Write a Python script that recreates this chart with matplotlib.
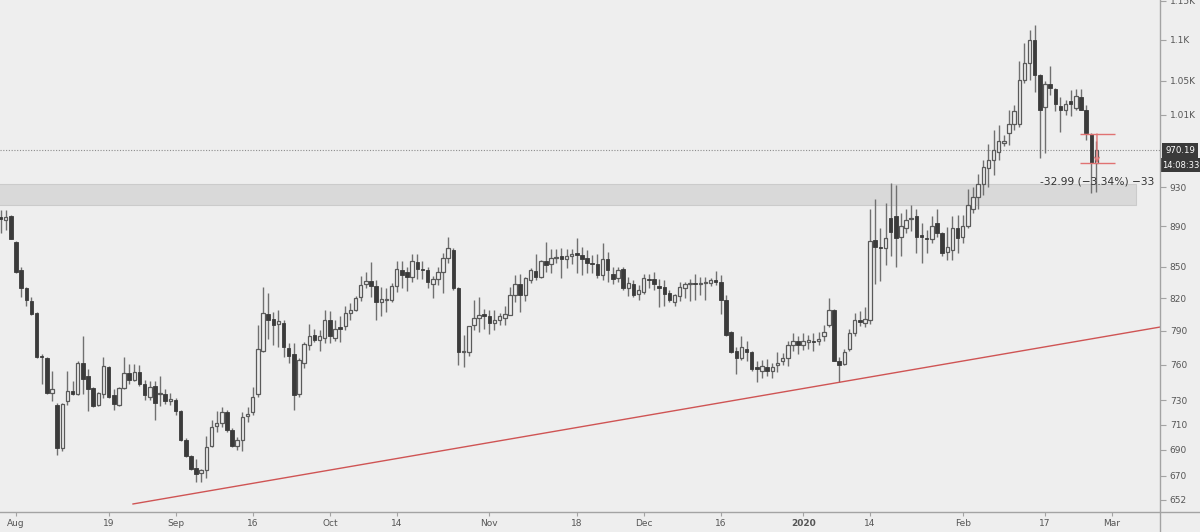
import pandas as pd
import matplotlib
matplotlib.use("Agg")
import matplotlib.pyplot as plt
import matplotlib.dates as mdates
import matplotlib.transforms as mtransforms
from matplotlib.lines import Line2D
from matplotlib.patches import Rectangle
from matplotlib.ticker import FixedLocator, NullLocator, NullFormatter

# daily candles starting 2019-07-29
start_day = "2019-07-29"
opens = [899, 896, 900, 874, 847, 829, 817, 806, 768, 766, 736, 726, 691, 729, 738, 735, 762, 750, 740, 726,
         735, 758, 734, 726, 740, 753, 747, 754, 744, 733, 742, 735, 735, 729, 730, 721, 698, 685, 676, 672,
         674, 693, 709, 711, 720, 706, 693, 698, 717, 720, 735, 772, 805, 801, 796, 797, 775, 769, 735, 762,
         777, 786, 782, 784, 800, 784, 793, 794, 806, 809, 821, 833, 836, 831, 816, 818, 818, 831, 847, 845,
         840, 854, 848, 847, 833, 838, 845, 858, 866, 829, 771, 771, 795, 802, 805, 803, 797, 800, 802, 804,
         823, 833, 823, 837, 846, 840, 855, 852, 858, 860, 857, 860, 863, 861, 858, 853, 852, 842, 857, 843,
         839, 848, 829, 833, 824, 826, 838, 838, 831, 830, 825, 816, 822, 829, 833, 834, 833, 834, 834, 837,
         835, 818, 789, 772, 766, 774, 771, 758, 755, 758, 755, 760, 763, 766, 777, 781, 777, 780, 781, 781,
         785, 795, 809, 763, 761, 774, 788, 800, 797, 800, 876, 869, 868, 898, 900, 879, 888, 897, 900, 881,
         878, 877, 893, 883, 864, 866, 888, 879, 890, 907, 920, 934, 951, 959, 968, 978, 989, 1000, 1000, 1051,
         1071, 1100, 1057, 1019, 1046, 1040, 1020, 1016, 1026, 1018, 1031, 1016, 988.4, 956]
highs = [906, 906, 901, 875, 850, 830, 821, 807, 769, 767, 755, 728, 728, 755, 746, 763, 785, 756, 741, 737,
         767, 759, 739, 741, 767, 761, 761, 760, 747, 746, 746, 750, 739, 736, 732, 722, 699, 686, 683, 675,
         701, 714, 721, 724, 722, 707, 700, 720, 724, 741, 795, 830, 825, 807, 809, 800, 779, 779, 766, 780,
         796, 792, 791, 809, 808, 800, 803, 813, 815, 822, 841, 845, 854, 837, 830, 829, 834, 855, 855, 850,
         862, 862, 855, 850, 841, 850, 863, 879, 868, 830, 786, 794, 818, 821, 810, 809, 809, 806, 813, 830,
         842, 843, 840, 849, 862, 856, 874, 867, 867, 868, 867, 867, 878, 869, 866, 861, 862, 873, 864, 850,
         850, 850, 840, 837, 832, 843, 843, 845, 838, 837, 828, 824, 835, 835, 838, 843, 840, 840, 839, 846,
         842, 823, 790, 776, 785, 781, 772, 763, 764, 765, 762, 771, 770, 781, 788, 785, 788, 786, 788, 789,
         795, 820, 810, 767, 774, 792, 806, 808, 812, 907, 918, 888, 914, 935, 933, 903, 908, 912, 908, 893,
         886, 900, 907, 884, 889, 900, 901, 901, 928, 930, 944, 959, 977, 993, 998, 987, 1016, 1021, 1074, 1096,
         1113, 1119, 1058, 1050, 1068, 1042, 1031, 1027, 1039, 1040, 1040, 1022, 990, 981]
lows = [883, 886, 877, 844, 821, 813, 804, 766, 744, 735, 729, 686, 689, 726, 734, 734, 735, 721, 724, 725,
        732, 732, 722, 725, 739, 744, 746, 742, 730, 730, 714, 725, 727, 726, 718, 697, 684, 674, 665, 665,
        668, 692, 704, 708, 704, 692, 690, 689, 712, 718, 733, 771, 783, 777, 776, 767, 762, 722, 733, 757,
        773, 780, 772, 779, 779, 781, 780, 791, 800, 808, 817, 829, 821, 800, 803, 807, 816, 826, 829, 827,
        835, 838, 838, 829, 820, 832, 825, 853, 828, 760, 758, 768, 791, 789, 792, 787, 791, 795, 795, 804,
        816, 807, 817, 834, 837, 839, 845, 844, 853, 839, 849, 852, 844, 842, 844, 844, 839, 837, 835, 833,
        835, 828, 822, 821, 818, 824, 829, 828, 812, 813, 816, 813, 817, 820, 817, 818, 823, 818, 831, 832,
        805, 785, 770, 752, 764, 763, 755, 745, 749, 750, 749, 754, 760, 759, 772, 769, 773, 774, 772, 777,
        781, 793, 763, 745, 760, 772, 785, 794, 793, 796, 833, 836, 851, 860, 850, 860, 883, 885, 863, 853,
        863, 873, 879, 860, 856, 856, 863, 873, 888, 903, 908, 922, 930, 943, 959, 975, 976, 993, 996, 1047,
        1051, 1037, 962, 967, 1033, 1015, 991, 1010, 1009, 1016, 1016, 982, 924, 925]
closes = [897, 899, 877, 845, 829, 818, 805, 767, 767, 736, 739, 691, 727, 738, 735, 762, 748, 739, 725, 736,
          759, 733, 727, 740, 753, 747, 754, 744, 734, 741, 728, 736, 729, 731, 721, 698, 685, 675, 671, 674,
          692, 708, 711, 720, 706, 693, 698, 716, 719, 733, 774, 806, 800, 795, 799, 776, 768, 734, 764, 778,
          785, 782, 785, 800, 785, 792, 792, 806, 809, 820, 832, 836, 831, 816, 819, 819, 831, 848, 842, 840,
          855, 848, 847, 835, 838, 845, 858, 868, 829, 771, 772, 794, 802, 804, 803, 797, 800, 803, 805, 823,
          833, 823, 839, 847, 840, 855, 851, 858, 859, 857, 860, 862, 861, 857, 853, 852, 842, 857, 847, 838,
          847, 829, 834, 823, 828, 839, 837, 833, 829, 824, 818, 823, 830, 833, 834, 833, 834, 835, 837, 835,
          818, 786, 771, 766, 776, 771, 756, 756, 759, 755, 758, 762, 766, 777, 781, 777, 781, 782, 780, 783,
          789, 809, 763, 760, 771, 788, 800, 798, 801, 875, 869, 868, 878, 884, 878, 890, 896, 898, 879, 879,
          877, 890, 883, 863, 869, 888, 878, 890, 912, 920, 934, 952, 959, 970, 980, 980, 1000, 1014, 1051, 1071,
          1100, 1057, 1016, 1046, 1042, 1023, 1016, 1023, 1023, 1032, 1016, 990, 956, 970.19]

last_price = 970.19
last_time = "14:08:33"

price_ticks = [652, 670, 690, 710, 730, 760, 790, 820, 850, 890, 930, 1010, 1050, 1100, 1150]
price_labels = ["652", "670", "690", "710", "730", "760", "790", "820", "850", "890", "930",
                "1.01K", "1.05K", "1.1K", "1.15K"]
date_ticks = ["2019-08-01", "2019-08-19", "2019-09-01", "2019-09-16", "2019-10-01", "2019-10-14",
              "2019-11-01", "2019-11-18", "2019-12-01", "2019-12-16", "2020-01-01", "2020-01-14",
              "2020-02-01", "2020-02-17", "2020-03-01"]
date_labels = ["Aug", "19", "Sep", "16", "Oct", "14", "Nov", "18", "Dec", "16", "2020", "14",
               "Feb", "17", "Mar"]

# drawings on the chart
trend_dates = ["2019-08-23 17:45", "2020-03-10 08:24"]
trend_prices = [648.7, 793.4]
zone_end = "2020-03-05 16:48"
zone_low, zone_high = 911.6, 933.6
measure_from, measure_to = 988.4, 956.0
measure_text = "-32.99 (\u22123.34%) \u221233"

BG = "#eeeeee"
DARK = "#3b3b3b"
HOLLOW_EDGE = "#5a5a5a"
WICK = "#707070"
AXIS = "#a3a3a3"
TXT = "#555555"

plt.rcParams["font.family"] = ["DejaVu Sans"]

fig = plt.figure(figsize=(12, 5.32), dpi=100, facecolor=BG)
ax = fig.add_axes([0, 20 / 532, 1160 / 1200, 512 / 532], facecolor=BG)
ax.set_yscale("log")

dates = pd.date_range(start_day, periods=len(opens), freq="D")
x = mdates.date2num(dates)
df = pd.DataFrame({"x": x, "o": opens, "h": highs, "l": lows, "c": closes})
up = df[df.c >= df.o]
down = df[df.c < df.o]

ax.vlines(df.x, df.l, df.h, color=WICK, lw=1, zorder=2)
ax.bar(up.x, (up.c - up.o).clip(lower=0.6), bottom=up.o, width=0.68,
       facecolor=BG, edgecolor=HOLLOW_EDGE, lw=0.9, zorder=3)
ax.bar(down.x, (down.o - down.c).clip(lower=0.6), bottom=down.c, width=0.68,
       facecolor=DARK, edgecolor=DARK, lw=0.6, zorder=3)

x0 = mdates.date2num(pd.Timestamp(start_day))
ax.set_xlim(x0 - 0.111, x0 + 225.35)
ax.set_ylim(642.8, 1151.2)

# support zone
zx1 = mdates.date2num(pd.Timestamp(zone_end))
ax.add_patch(Rectangle((x0 - 2, zone_low), zx1 - x0 + 2, zone_high - zone_low,
                       facecolor="#d9d9d9", edgecolor="#cbcbcb", lw=0.8, zorder=1))

# trend line
ax.plot(pd.to_datetime(trend_dates), trend_prices, color="#cf5454", lw=1, zorder=4)

# last price line
ax.axhline(last_price, color="#8c8c8c", lw=0.8, ls=(0, (1, 1.5)), zorder=1)

# measurement tool
RED = "#e07272"
m_left = mdates.date2num(pd.Timestamp("2020-02-23 19:12"))
m_right = mdates.date2num(pd.Timestamp("2020-03-01 14:24"))
m_mid = mdates.date2num(pd.Timestamp("2020-02-27 02:24"))
ax.hlines([measure_from, measure_to], m_left, m_right, color=RED, lw=1, zorder=5)
ax.annotate("", xy=(m_mid, measure_to), xytext=(m_mid, measure_from),
            arrowprops=dict(arrowstyle="->", color=RED, lw=1, mutation_scale=8,
                            shrinkA=0, shrinkB=0), zorder=5)
ax.text(m_mid, 935.9, measure_text, ha="center", va="center", fontsize=7.7, color="#333333", zorder=6)

# axes styling
for s in ax.spines.values():
    s.set_visible(False)
ax.yaxis.tick_right()
ax.yaxis.set_major_locator(FixedLocator(price_ticks))
ax.yaxis.set_major_formatter(plt.FixedFormatter(price_labels))
ax.yaxis.set_minor_locator(NullLocator())
ax.yaxis.set_minor_formatter(NullFormatter())
ax.tick_params(axis="y", length=4, width=0.8, color=AXIS, labelsize=6.5, labelcolor=TXT, pad=3)

ax.set_xticks(mdates.date2num(pd.to_datetime(date_ticks)))
ax.set_xticklabels(date_labels)
ax.tick_params(axis="x", length=3, width=0.8, color=AXIS, labelsize=6.5, labelcolor=TXT, pad=2)
for lab in ax.get_xticklabels():
    if lab.get_text() == "2020":
        lab.set_fontweight("bold")

fig.add_artist(Line2D([0, 1], [20 / 532, 20 / 532], transform=fig.transFigure, color=AXIS, lw=1))
fig.add_artist(Line2D([1160 / 1200, 1160 / 1200], [0, 1], transform=fig.transFigure, color=AXIS, lw=1))

# price / countdown labels on the scale
blend = mtransforms.blended_transform_factory(ax.transAxes, ax.transData)
ax.annotate(f"{last_price:.2f}", xy=(1, last_price), xycoords=blend, xytext=(5, 0),
            textcoords="offset pixels", ha="left", va="center", color="white", fontsize=6.2,
            bbox=dict(boxstyle="square,pad=0.35", fc="#3a3a3a", ec="none"), annotation_clip=False)
ax.annotate(last_time, xy=(1, last_price), xycoords=blend, xytext=(2, -15),
            textcoords="offset pixels", ha="left", va="center", color="white", fontsize=6.0,
            bbox=dict(boxstyle="square,pad=0.3", fc="#3a3a3a", ec="none"), annotation_clip=False)

fig.savefig("out.png", dpi=100, facecolor=BG)
